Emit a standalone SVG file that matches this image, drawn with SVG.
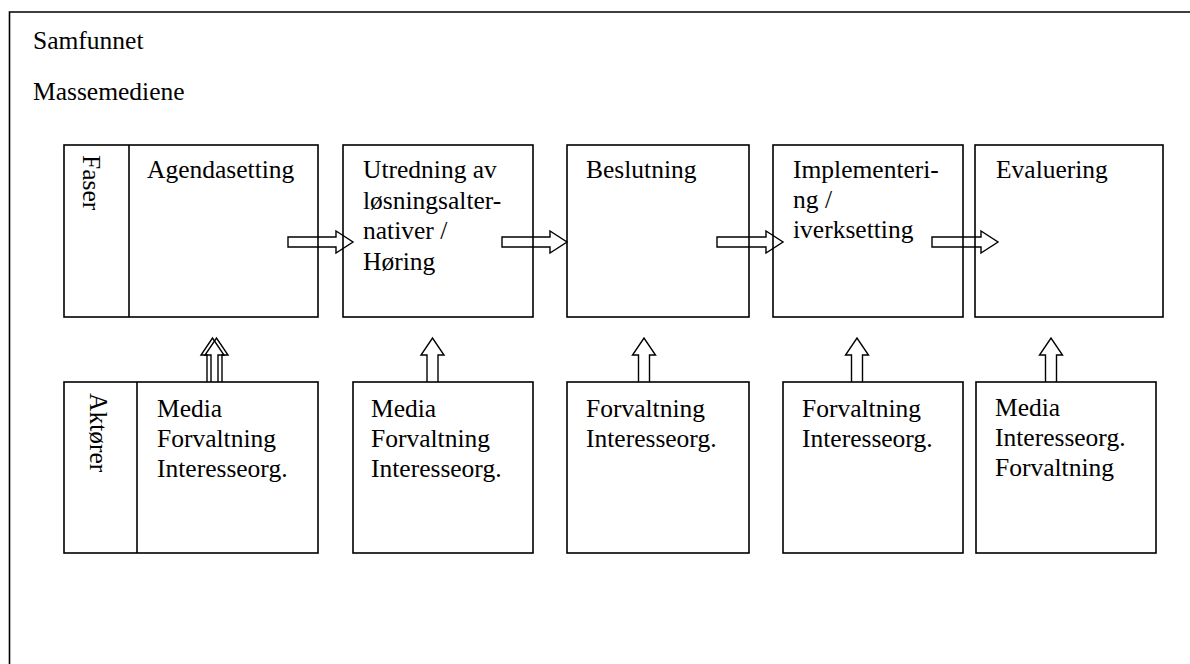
<svg xmlns="http://www.w3.org/2000/svg" width="1190" height="664" viewBox="0 0 1190 664">
  <style>
    .box { fill: none; stroke: #000; stroke-width: 1.6; }
    .arr { fill: none; stroke: #000; stroke-width: 1.4; stroke-linejoin: miter; }
    .t { font-family: 'Liberation Serif', 'Times New Roman', Tinos, 'DejaVu Serif', serif; font-size: 25.5px; fill: #000; }
  </style>
  <rect width="1190" height="664" fill="#fff"/>
  <g id="frame" class="t" font-family="Liberation Serif, Times New Roman, serif">
    <path d="M9.5 680 V12 H1200" class="box" stroke-width="2"/>
    <text x="33" y="49">Samfunnet</text>
    <text x="33" y="100">Massemediene</text>
  </g>

  <g id="connectors">
    <path class="arr" d="M288 237 H336 V231 L353 242 L336 253 V247 H288 Z"/>
    <path class="arr" d="M502 237 H550 V231 L567 242 L550 253 V247 H502 Z"/>
    <path class="arr" d="M717 237 H766 V231 L783 242 L766 253 V247 H717 Z"/>
    <path class="arr" d="M932 237 H981 V231 L998 242 L981 253 V247 H932 Z"/>
    <path class="arr" d="M207 382 V355 H201 L212.5 338 L224 355 H218 V382"/>
    <path class="arr" d="M211 382 V355 H205 L216.5 338 L228 355 H222 V382"/>
    <path class="arr" d="M427 382 V355 H421 L432.5 338 L444 355 H438 V382"/>
    <path class="arr" d="M638.5 382 V355 H632.5 L644 338 L655.5 355 H649.5 V382"/>
    <path class="arr" d="M851.5 382 V355 H845.5 L857 338 L868.5 355 H862.5 V382"/>
    <path class="arr" d="M1045.5 382 V355 H1039.5 L1051 338 L1062.5 355 H1056.5 V382"/>
  </g>

  <g class="t" font-family="Liberation Serif, Times New Roman, serif">
  <g id="phase1">
    <rect class="box" x="64" y="145" width="254" height="172"/>
    <line class="box" x1="129" y1="145" x2="129" y2="317"/>
    <text transform="translate(83 155) rotate(90)">Faser</text>
    <text x="147" y="178">Agendasetting</text>
  </g>
  <g id="phase2">
    <rect class="box" x="343" y="145" width="190" height="172"/>
    <text x="363" y="178">Utredning av</text>
    <text x="363" y="208.5">løsningsalter-</text>
    <text x="363" y="239">nativer /</text>
    <text x="363" y="269.5">Høring</text>
  </g>
  <g id="phase3">
    <rect class="box" x="567" y="145" width="182" height="172"/>
    <text x="586" y="178">Beslutning</text>
  </g>
  <g id="phase4">
    <rect class="box" x="773" y="145" width="190" height="172"/>
    <text x="793" y="178">Implementeri-</text>
    <text x="793" y="208">ng /</text>
    <text x="793" y="238">iverksetting</text>
  </g>
  <g id="phase5">
    <rect class="box" x="975" y="145" width="188" height="172"/>
    <text x="996" y="178">Evaluering</text>
  </g>

  <g id="actors1">
    <rect class="box" x="64" y="382" width="254" height="171"/>
    <line class="box" x1="137" y1="382" x2="137" y2="553"/>
    <text transform="translate(90 393) rotate(90)">Aktører</text>
    <text x="157" y="417">Media</text>
    <text x="157" y="447">Forvaltning</text>
    <text x="157" y="477">Interesseorg.</text>
  </g>
  <g id="actors2">
    <rect class="box" x="353" y="382" width="180" height="171"/>
    <text x="371" y="417">Media</text>
    <text x="371" y="447">Forvaltning</text>
    <text x="371" y="477">Interesseorg.</text>
  </g>
  <g id="actors3">
    <rect class="box" x="567" y="382" width="182" height="171"/>
    <text x="586" y="417">Forvaltning</text>
    <text x="586" y="447">Interesseorg.</text>
  </g>
  <g id="actors4">
    <rect class="box" x="783" y="382" width="180" height="171"/>
    <text x="802" y="417">Forvaltning</text>
    <text x="802" y="447">Interesseorg.</text>
  </g>
  <g id="actors5">
    <rect class="box" x="976" y="382" width="180" height="171"/>
    <text x="995" y="416">Media</text>
    <text x="995" y="446">Interesseorg.</text>
    <text x="995" y="476">Forvaltning</text>
  </g>
  </g>
</svg>
